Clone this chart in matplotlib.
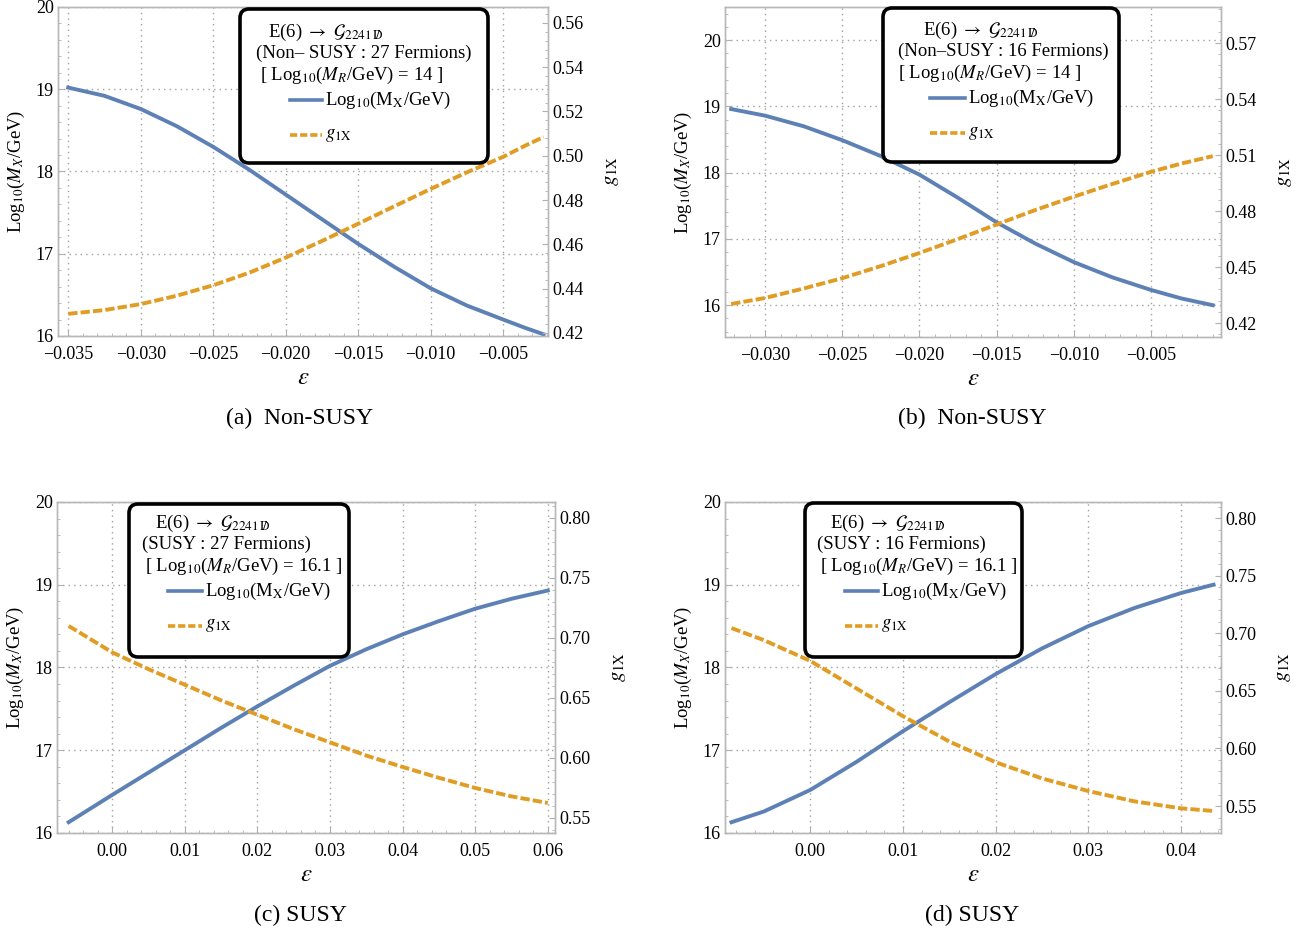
import matplotlib
matplotlib.use('Agg')
import matplotlib.pyplot as plt
from matplotlib.patches import FancyBboxPatch
from matplotlib.lines import Line2D
from matplotlib.ticker import AutoMinorLocator

plt.rcParams['font.family'] = ['Liberation Serif', 'DejaVu Serif']
plt.rcParams['mathtext.fontset'] = 'stix'

W, H = 1299, 933
BLUE = '#5e81b5'
ORANGE = '#e19c24'

# (a) Non-SUSY, 27 fermions
eps_a = [-0.035, -0.0325, -0.030, -0.0275, -0.025, -0.0225, -0.020, -0.0175,
         -0.015, -0.0125, -0.010, -0.0075, -0.005, -0.0035, -0.0022]
mx_a = [19.02, 18.92, 18.76, 18.55, 18.30, 18.02, 17.72, 17.42,
        17.12, 16.84, 16.58, 16.37, 16.20, 16.10, 16.02]
g_a = [0.4286, 0.4303, 0.4330, 0.4368, 0.4415, 0.4472, 0.4540, 0.4615,
       0.4693, 0.4772, 0.4850, 0.4925, 0.4995, 0.5045, 0.5085]

# (b) Non-SUSY, 16 fermions
eps_b = [-0.0322, -0.030, -0.0275, -0.025, -0.0225, -0.020, -0.0175, -0.015,
         -0.0125, -0.010, -0.0075, -0.005, -0.003, -0.001]
mx_b = [18.96, 18.86, 18.70, 18.49, 18.25, 17.97, 17.62, 17.25,
        16.93, 16.65, 16.42, 16.23, 16.10, 16.00]
g_b = [0.4302, 0.4334, 0.4385, 0.4440, 0.4505, 0.4575, 0.4650, 0.4728,
       0.4805, 0.4877, 0.4945, 0.5010, 0.5055, 0.5094]

# (c) SUSY, 27 fermions
eps_c = [-0.006, 0.000, 0.005, 0.010, 0.015, 0.020, 0.025, 0.030,
         0.035, 0.040, 0.045, 0.050, 0.055, 0.060]
mx_c = [16.13, 16.46, 16.73, 17.00, 17.27, 17.53, 17.78, 18.02,
        18.22, 18.40, 18.56, 18.71, 18.83, 18.93]
g_c = [0.710, 0.688, 0.674, 0.661, 0.648, 0.636, 0.624, 0.613,
       0.602, 0.5925, 0.5835, 0.575, 0.568, 0.5625]

# (d) SUSY, 16 fermions
eps_d = [-0.0085, -0.005, 0.000, 0.005, 0.010, 0.015, 0.020, 0.025,
         0.030, 0.035, 0.040, 0.0435]
mx_d = [16.13, 16.26, 16.52, 16.86, 17.23, 17.58, 17.92, 18.23,
        18.50, 18.72, 18.90, 19.00]
g_d = [0.7045, 0.694, 0.676, 0.652, 0.628, 0.606, 0.588, 0.574,
       0.563, 0.554, 0.548, 0.5457]

xt_a = [-0.035, -0.030, -0.025, -0.020, -0.015, -0.010, -0.005]
xt_b = [-0.030, -0.025, -0.020, -0.015, -0.010, -0.005]
xt_c = [0.00, 0.01, 0.02, 0.03, 0.04, 0.05, 0.06]
xt_d = [0.00, 0.01, 0.02, 0.03, 0.04]
yt_left = [16, 17, 18, 19, 20]
rt_a = [0.42, 0.44, 0.46, 0.48, 0.50, 0.52, 0.54, 0.56]
rt_b = [0.42, 0.45, 0.48, 0.51, 0.54, 0.57]
rt_cd = [0.55, 0.60, 0.65, 0.70, 0.75, 0.80]

fermions = ['(Non\u2013 SUSY : 27 Fermions)', '(Non\u2013SUSY : 16 Fermions)',
            '(SUSY : 27 Fermions)', '(SUSY : 16 Fermions)']
scales = ['14', '14', '16.1', '16.1']
captions = ['(a)  Non-SUSY', '(b)  Non-SUSY', '(c) SUSY', '(d) SUSY']

fig = plt.figure(figsize=(W / 100, H / 100), dpi=100)


def fx(x):
    return x / W


def fy(y):
    return 1 - y / H


def fmt(v, nd):
    return f'{v:.{nd}f}'.replace('-', '\u2212')


def panel(rect, eps, mx, g, xlim, xt, xnd, ylim, rlim, rt):
    ax = fig.add_axes(rect)
    ax2 = ax.twinx()
    ax.plot(eps, mx, color=BLUE, lw=2.8, solid_joinstyle='round', zorder=3)
    ax2.plot(eps, g, color=ORANGE, lw=2.8, dashes=(2.4, 0.8), zorder=3)
    ax.set_xlim(xlim)
    ax.set_ylim(ylim)
    ax2.set_ylim(rlim)
    ax.set_xticks(xt, [fmt(v, xnd) for v in xt])
    ax.set_yticks(yt_left, [str(v) for v in yt_left])
    ax2.set_yticks(rt, [fmt(v, 2) for v in rt])
    for a in (ax, ax2):
        a.xaxis.set_minor_locator(AutoMinorLocator(5))
        a.yaxis.set_minor_locator(AutoMinorLocator(5))
        a.tick_params(which='both', direction='in', color='#b0b0b0',
                      labelsize=13, pad=3)
        a.tick_params(which='major', length=4)
        a.tick_params(which='minor', length=2)
        for s in a.spines.values():
            s.set_color('#b8b8b8')
            s.set_linewidth(1.0)
    ax.tick_params(axis='x', pad=7)
    ax.grid(True, which='major', color='#a0a0a0', linestyle=(0, (1, 3)), lw=1.0)
    ax.set_axisbelow(True)
    ax.set_xlabel(r'$\varepsilon$', fontsize=18, labelpad=3)
    ax.set_ylabel(r'Log$_{10}$($M_X$/GeV)', fontsize=13.5, labelpad=6)
    ax2.set_ylabel(r'$g_{\mathrm{1X}}$', fontsize=15, labelpad=13)
    return ax, ax2


panel([0.0447, 0.6399, 0.3772, 0.3526], eps_a, mx_a, g_a,
      (-0.0357, -0.0019), xt_a, 3, (16, 20), (0.4186, 0.5672), rt_a)
panel([0.5581, 0.6388, 0.3818, 0.3537], eps_b, mx_b, g_b,
      (-0.0326, -0.00047), xt_b, 3, (15.52, 20.5), (0.4125, 0.5893), rt_b)
panel([0.0439, 0.1072, 0.3834, 0.3548], eps_c, mx_c, g_c,
      (-0.0076, 0.061), xt_c, 2, (16, 20), (0.5375, 0.8133), rt_cd)
panel([0.5581, 0.1072, 0.3818, 0.3548], eps_d, mx_d, g_d,
      (-0.0092, 0.0443), xt_d, 2, (16, 20), (0.5266, 0.814), rt_cd)

# key boxes: box corners, then left edges of the three heading lines, line x-range
keys = [
    dict(box=(240, 9, 488, 163), xs=(268, 256, 260), y0=32, line=(290, 322)),
    dict(box=(883, 8, 1119, 162), xs=(923, 898, 898), y0=30, line=(930, 965)),
    dict(box=(129, 504, 349, 657), xs=(155, 142, 145), y0=523, line=(168, 202)),
    dict(box=(805, 503, 1022, 657), xs=(830, 817, 820), y0=523, line=(845, 878)),
]

head = r'E(6) $\rightarrow$ $\mathcal{G}_{2241\,\mathrm{D}\!\!\!\!/}$'
for k, fer, sc in zip(keys, fermions, scales):
    x0, y0, x1, y1 = k['box']
    fig.add_artist(FancyBboxPatch((fx(x0), fy(y1)), fx(x1 - x0), (y1 - y0) / H,
                                  boxstyle='round,pad=0,rounding_size=0.007',
                                  mutation_aspect=W / H,
                                  transform=fig.transFigure, facecolor='white',
                                  edgecolor='black', lw=2.6, zorder=5))
    t = k['y0']
    fig.text(fx(k['xs'][0]), fy(t), head, fontsize=13.5, va='center', zorder=6)
    fig.text(fx(k['xs'][1]), fy(t + 21), fer, fontsize=13.5, va='center', zorder=6)
    fig.text(fx(k['xs'][2]), fy(t + 43),
             r'[ Log$_{10}$($M_R$/GeV) = ' + sc + ' ]',
             fontsize=13.5, va='center', zorder=6)
    lx0, lx1 = k['line']
    fig.add_artist(Line2D([fx(lx0), fx(lx1)], [fy(t + 68)] * 2, color=BLUE,
                          lw=2.6, transform=fig.transFigure, zorder=6))
    fig.add_artist(Line2D([fx(lx0), fx(lx1)], [fy(t + 103)] * 2, color=ORANGE,
                          lw=2.6, dashes=(2.0, 0.8), transform=fig.transFigure, zorder=6))
    fig.text(fx(lx1 + 3), fy(t + 68), r'Log$_{10}$(M$_{\mathrm{X}}$/GeV)',
             fontsize=13.5, va='center', zorder=6)
    fig.text(fx(lx1 + 3), fy(t + 103), r'$g_{\mathrm{1X}}$',
             fontsize=13.5, va='center', zorder=6)

for (cx, cy), cap in zip([(300, 418), (972, 418), (300, 915), (972, 915)], captions):
    fig.text(fx(cx), fy(cy), cap, fontsize=17, ha='center', va='center')

fig.savefig('out.png', dpi=100)
